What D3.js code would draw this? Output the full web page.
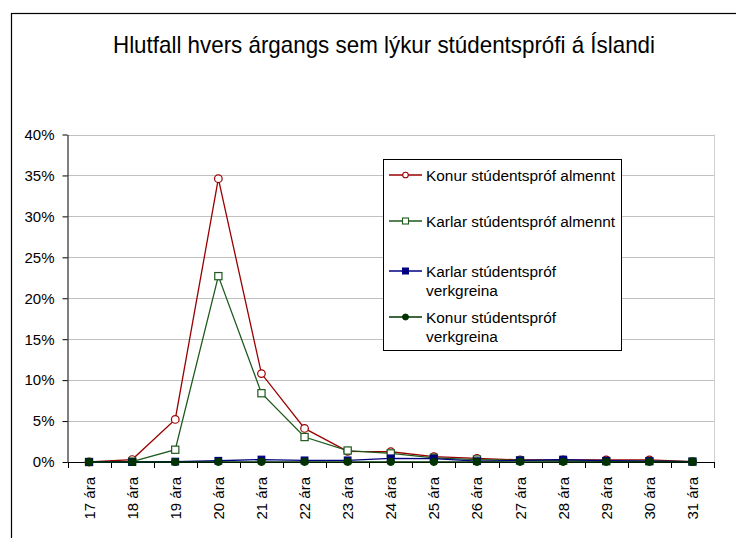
<!DOCTYPE html>
<html><head><meta charset="utf-8">
<script src="https://cdn.jsdelivr.net/npm/d3@7"></script>
<style>body{margin:0;background:#fff}svg{display:block;font-family:"Liberation Sans",Arial,sans-serif}</style>
</head><body>
<svg id="c" width="736" height="538"></svg>
<script>
const categories = ["17 ára","18 ára","19 ára","20 ára","21 ára","22 ára","23 ára","24 ára","25 ára","26 ára","27 ára","28 ára","29 ára","30 ára","31 ára"];
const konurAlmennt  = [0.0, 0.3, 5.2, 34.6, 10.8, 4.1, 1.3, 1.25, 0.65, 0.45, 0.25, 0.25, 0.25, 0.25, 0.05];
const karlarAlmennt = [0.0, 0.05, 1.5, 22.7, 8.4, 3.05, 1.4, 1.05, 0.5, 0.3, 0.2, 0.15, 0.1, 0.1, 0.05];
const karlarVerk    = [0.0, 0.0, 0.05, 0.15, 0.3, 0.2, 0.2, 0.45, 0.4, 0.1, 0.2, 0.3, 0.15, 0.1, 0.05];
const konurVerk     = [0.0, 0.0, 0.0, 0.02, 0.02, 0.02, 0.02, 0.02, 0.02, 0.02, 0.02, 0.02, 0.02, 0.02, 0.02];
const yTicks = [0,5,10,15,20,25,30,35,40];
const title = "Hlutfall hvers árgangs sem lýkur stúdentsprófi á Íslandi";

const series = [
  {name:["Konur stúdentspróf almennt"], values:konurAlmennt, color:"#990000", marker:"circle", fill:"#fff"},
  {name:["Karlar stúdentspróf almennt"], values:karlarAlmennt, color:"#1e5a1e", marker:"square", fill:"#fff"},
  {name:["Karlar stúdentspróf","verkgreina"], values:karlarVerk, color:"#000080", marker:"square", fill:"#000080"},
  {name:["Konur stúdentspróf","verkgreina"], values:konurVerk, color:"#003300", marker:"circle", fill:"#003300"}
];

const svg = d3.select("#c");
const m = {left:67.5, right:714, top:134.5, bottom:462};

svg.append("rect").attr("x",11.5).attr("y",13.5).attr("width",740).attr("height",540)
  .attr("fill","#fff").attr("stroke","#000").attr("stroke-width",1.2);

svg.append("text").attr("x",384).attr("y",53).attr("text-anchor","middle")
  .attr("font-size",24).attr("fill","#000")
  .attr("textLength",542).attr("lengthAdjust","spacingAndGlyphs").text(title);

const x = d3.scaleBand().domain(categories).range([m.left,m.right]);
const y = d3.scaleLinear().domain([0,40]).range([m.bottom,m.top]);

// gridlines
svg.append("g").selectAll("line").data(yTicks.slice(1)).join("line")
  .attr("x1",m.left).attr("x2",m.right).attr("y1",d=>Math.round(y(d))+0.5).attr("y2",d=>Math.round(y(d))+0.5)
  .attr("stroke","#c0c0c0").attr("stroke-width",1);
svg.append("line").attr("x1",m.right+0.5).attr("x2",m.right+0.5).attr("y1",m.top).attr("y2",m.bottom)
  .attr("stroke","#d0d0d0");

// y axis
const ya = svg.append("g").attr("transform",`translate(${m.left},0)`)
  .call(d3.axisLeft(y).tickValues(yTicks).tickFormat(d=>d+"%").tickSize(5).tickSizeOuter(0));
ya.select(".domain").attr("stroke","#000");
ya.selectAll("text").attr("font-size",15).attr("fill","#000").attr("font-family","Liberation Sans, Arial").attr("dx",-5);

// x axis
const xa = svg.append("g").attr("transform",`translate(0,${m.bottom})`);
xa.append("line").attr("x1",m.left).attr("x2",m.right+1).attr("y1",0.5).attr("y2",0.5).attr("stroke","#000");
const bounds = categories.map((c,i)=>x(c)).concat([m.right]);
xa.selectAll("line.t").data(bounds).join("line").attr("class","t")
  .attr("x1",d=>Math.round(d)+0.5).attr("x2",d=>Math.round(d)+0.5).attr("y1",0).attr("y2",6).attr("stroke","#000");
xa.selectAll("text").data(categories).join("text")
  .attr("transform",d=>`translate(${x(d)+x.bandwidth()/2+5.5},15) rotate(-90)`)
  .attr("text-anchor","end").attr("font-size",15).attr("fill","#000").text(d=>d);

const cx = i => x(categories[i]) + x.bandwidth()/2;
function drawMarker(g, s, px, py){
  if(s.marker==="circle"){
    const r = s.fill==="#fff"?3.8:3.5;
    g.append("circle").attr("cx",px).attr("cy",py).attr("r",r).attr("fill",s.fill).attr("stroke",s.color).attr("stroke-width",1.2);
  } else {
    const h = s.fill==="#fff"?3.6:3.3;
    g.append("rect").attr("x",px-h).attr("y",py-h).attr("width",2*h).attr("height",2*h)
      .attr("fill",s.fill).attr("stroke",s.color).attr("stroke-width",1.2);
  }
}

series.forEach(s=>{
  const g = svg.append("g");
  g.append("path").datum(s.values).attr("fill","none").attr("stroke",s.color).attr("stroke-width",1.3)
    .attr("d",d3.line().x((d,i)=>cx(i)).y(d=>y(d)));
  s.values.forEach((v,i)=>drawMarker(g,s,cx(i),y(v)));
});

// legend
const lg = svg.append("g");
lg.append("rect").attr("x",383.5).attr("y",159.5).attr("width",238).attr("height",191)
  .attr("fill","#fff").attr("stroke","#000").attr("stroke-width",1);
const ly = [175, 221, 271, 317];
series.forEach((s,i)=>{
  lg.append("line").attr("x1",389).attr("x2",422).attr("y1",ly[i]).attr("y2",ly[i]).attr("stroke",s.color).attr("stroke-width",1.3);
  if(s.marker==="circle" && s.fill==="#fff"){
    lg.append("circle").attr("cx",405.5).attr("cy",ly[i]).attr("r",2.8).attr("fill","#fff").attr("stroke",s.color).attr("stroke-width",1.1);
  } else if(s.marker==="square" && s.fill==="#fff"){
    lg.append("rect").attr("x",402.5).attr("y",ly[i]-3).attr("width",6).attr("height",6).attr("fill","#fff").attr("stroke",s.color).attr("stroke-width",1.1);
  } else if(s.marker==="square"){
    lg.append("rect").attr("x",402.5).attr("y",ly[i]-3).attr("width",6).attr("height",6).attr("fill",s.fill).attr("stroke",s.color);
  } else {
    lg.append("circle").attr("cx",405.5).attr("cy",ly[i]).attr("r",3).attr("fill",s.fill).attr("stroke",s.color);
  }
  s.name.forEach((t,j)=>{
    lg.append("text").attr("x",426).attr("y",ly[i]+5.5+j*19.5).attr("font-size",15.4).attr("fill","#000").text(t);
  });
});
</script>
</body></html>
